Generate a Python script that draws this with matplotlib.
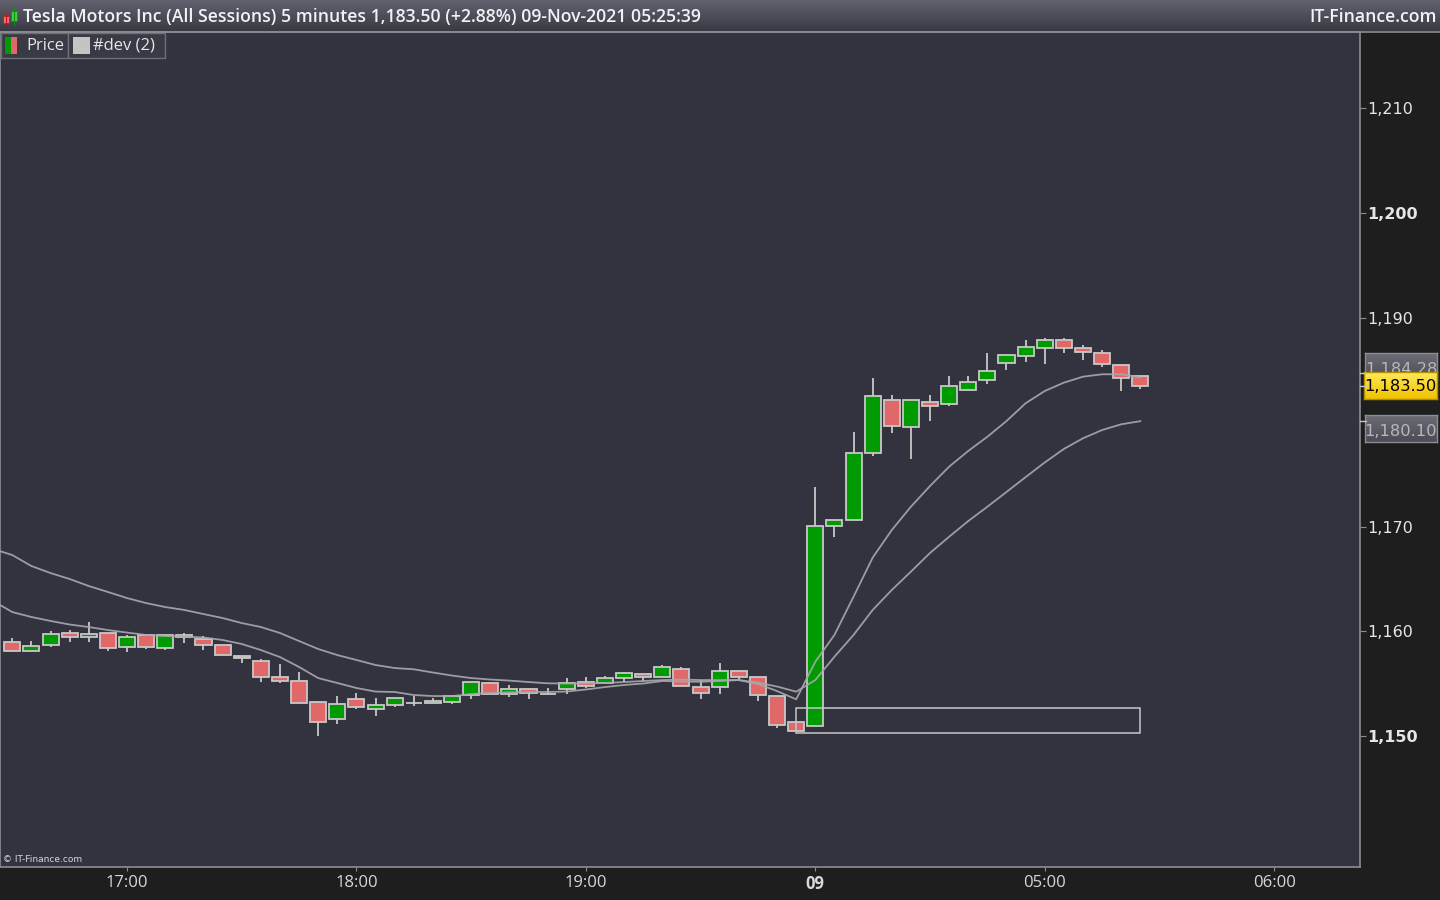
import matplotlib
matplotlib.use('Agg')
import matplotlib.pyplot as plt
import numpy as np
from matplotlib.patches import Rectangle

# ---------------- data ----------------
opens = [1159.02, 1158.10, 1158.67, 1159.82, 1159.44, 1159.88, 1158.48, 1159.63, 1158.38, 1159.66,
         1159.25, 1158.67, 1157.62, 1157.14, 1155.61, 1155.23, 1153.22, 1151.60, 1153.51, 1152.55,
         1152.93, 1153.13, 1153.13, 1153.22, 1153.89, 1155.04, 1153.98, 1154.52, 1154.05, 1154.46,
         1155.13, 1155.04, 1155.51, 1155.90, 1155.61, 1156.38, 1154.66, 1154.66, 1156.19, 1155.61,
         1153.79, 1151.31, 1150.93, 1170.05, 1170.62, 1177.03, 1182.09, 1179.51, 1181.90, 1181.71,
         1183.05, 1184.01, 1185.63, 1186.30, 1187.07, 1187.83, 1187.07, 1186.59, 1185.44, 1184.39]
closes = [1158.10, 1158.63, 1159.78, 1159.44, 1159.72, 1158.38, 1159.44, 1158.48, 1159.63, 1159.44,
          1158.67, 1157.71, 1157.43, 1155.61, 1155.23, 1153.13, 1151.31, 1153.03, 1152.74, 1152.93,
          1153.60, 1153.13, 1153.32, 1153.79, 1155.13, 1154.05, 1154.52, 1154.11, 1154.05, 1155.10,
          1154.75, 1155.51, 1155.99, 1155.61, 1156.57, 1154.75, 1154.08, 1156.19, 1155.61, 1153.89,
          1151.02, 1150.45, 1170.05, 1170.62, 1177.03, 1182.48, 1179.61, 1182.09, 1181.52, 1183.43,
          1183.81, 1184.87, 1186.40, 1187.16, 1187.83, 1187.07, 1186.68, 1185.54, 1184.20, 1183.50]
highs = [1159.34, 1159.05, 1160.01, 1160.10, 1160.87, 1159.88, 1159.66, 1159.63, 1159.63, 1159.85,
         1159.56, 1158.67, 1157.62, 1157.36, 1156.88, 1156.12, 1153.35, 1153.82, 1154.11, 1153.63,
         1153.60, 1153.85, 1153.63, 1153.79, 1155.13, 1155.16, 1154.84, 1154.52, 1154.59, 1155.55,
         1155.64, 1155.74, 1156.12, 1155.90, 1156.79, 1156.60, 1155.32, 1156.98, 1156.19, 1155.61,
         1153.79, 1151.31, 1173.81, 1170.62, 1179.06, 1184.23, 1182.60, 1182.09, 1182.60, 1184.42,
         1184.42, 1186.62, 1186.40, 1187.86, 1188.05, 1188.05, 1187.38, 1186.87, 1185.44, 1184.39]
lows = [1158.10, 1158.10, 1158.54, 1159.02, 1159.02, 1158.16, 1158.06, 1158.35, 1158.25, 1158.92,
        1158.25, 1157.71, 1157.01, 1155.19, 1155.10, 1153.13, 1150.03, 1151.18, 1152.55, 1151.94,
        1152.74, 1152.90, 1153.13, 1153.09, 1153.54, 1154.05, 1153.76, 1153.54, 1154.05, 1154.05,
        1154.62, 1155.04, 1155.19, 1155.23, 1155.61, 1154.75, 1153.54, 1154.05, 1155.32, 1153.38,
        1150.79, 1150.45, 1150.93, 1169.07, 1170.62, 1176.80, 1179.00, 1176.51, 1180.14, 1181.52,
        1183.05, 1183.68, 1185.02, 1185.79, 1185.60, 1186.59, 1185.98, 1185.31, 1183.01, 1183.20]

# #dev (2) lines (first value belongs to the bar just before the visible range)
dev_slow = [1167.88,
            1167.30, 1166.25, 1165.58, 1165.01, 1164.34, 1163.77, 1163.19, 1162.71, 1162.33, 1162.05,
            1161.66, 1161.28, 1160.80, 1160.42, 1159.85, 1159.08, 1158.32, 1157.74, 1157.27, 1156.79,
            1156.50, 1156.38, 1156.07, 1155.78, 1155.54, 1155.40, 1155.30, 1155.16, 1155.04, 1155.02,
            1155.04, 1155.07, 1155.16, 1155.26, 1155.35, 1155.40, 1155.35, 1155.35, 1155.35, 1155.10,
            1154.73, 1154.24, 1155.35, 1157.58, 1159.66, 1162.05, 1163.96, 1165.71, 1167.50, 1169.05,
            1170.55, 1171.92, 1173.33, 1174.75, 1176.15, 1177.44, 1178.46, 1179.25, 1179.80, 1180.10]
dev_fast = [1162.91,
            1161.85, 1161.38, 1161.00, 1160.66, 1160.42, 1160.13, 1159.89, 1159.66, 1159.56, 1159.51,
            1159.42, 1159.18, 1158.80, 1158.22, 1157.55, 1156.60, 1155.54, 1155.07, 1154.59, 1154.25,
            1154.21, 1153.92, 1153.82, 1153.82, 1154.01, 1154.11, 1154.18, 1154.21, 1154.21, 1154.25,
            1154.45, 1154.68, 1154.88, 1155.02, 1155.26, 1155.21, 1155.19, 1155.26, 1155.35, 1154.97,
            1154.30, 1153.51, 1157.10, 1159.66, 1163.32, 1167.05, 1169.69, 1171.92, 1173.90, 1175.75,
            1177.25, 1178.61, 1180.11, 1181.81, 1182.98, 1183.78, 1184.35, 1184.58, 1184.58, 1184.28]

x_tick_bars = [6, 18, 30, 42, 54, 66]
x_tick_labels = ['17:00', '18:00', '19:00', '09', '05:00', '06:00']
y_ticks = [1150, 1160, 1170, 1190, 1200, 1210]
y_tick_labels = ['1,150', '1,160', '1,170', '1,190', '1,200', '1,210']
y_bold = [1150, 1200]

zone_bars = [41, 59]
zone_prices = [1150.26, 1152.65]

title = 'Tesla Motors Inc (All Sessions) 5 minutes 1,183.50 (+2.88%) 09-Nov-2021 05:25:39'
last_price = 1183.50
tag_fast = 1184.28
tag_slow = 1180.10

# ---------------- style ----------------
BG = '#33333f'
AXBG = '#1e1e1e'
GREEN = '#009b00'
RED = '#e06868'
EDGE = '#c8c8c8'
LINE = '#a8a8ae'
FONT = 'DejaVu Sans'
UIFONT = 'Open Sans'

W, H = 1440, 900
fig = plt.figure(figsize=(W / 100, H / 100), dpi=100)
fig.patch.set_facecolor(AXBG)

def fx(x):
    return x / W

def fy(y):
    return 1 - y / H

ax = fig.add_axes([0, fy(867), fx(1360), (867 - 32) / H])
ax.set_facecolor(BG)

n = len(opens)
xs = np.arange(n)
o = np.array(opens); c = np.array(closes); h = np.array(highs); l = np.array(lows)

# wicks
ax.vlines(xs, l, h, color=EDGE, lw=1.3, zorder=2)
# bodies
bw = 0.84
bottoms = np.minimum(o, c)
heights = np.maximum(np.abs(c - o), 0.001)
cols = np.where(c > o, GREEN, np.where(c < o, RED, EDGE))
ax.bar(xs, heights, bottom=bottoms, width=bw, color=cols, edgecolor=EDGE, linewidth=1.3, zorder=3)

# dev lines
xl = np.arange(-1, n)
ax.plot(xl, dev_slow, color=LINE, lw=1.3, alpha=0.9, zorder=4, solid_joinstyle='round')
ax.plot(xl, dev_fast, color=LINE, lw=1.3, alpha=0.9, zorder=4, solid_joinstyle='round')

# zone rectangle
ax.add_patch(Rectangle((zone_bars[0], zone_prices[0]), zone_bars[1] - zone_bars[0],
                       zone_prices[1] - zone_prices[0], fill=False, edgecolor=EDGE, lw=1.1, zorder=5))

ax.set_xlim(-0.643, 70.49)
ax.set_ylim(1137.48, 1217.30)

for s in ax.spines.values():
    s.set_color('#8c8c92')
    s.set_linewidth(1.2)

ax.set_xticks(x_tick_bars)
ax.set_xticklabels(x_tick_labels)
for lab in ax.get_xticklabels():
    lab.set_color('#d8d8d8')
    lab.set_fontfamily(UIFONT)
    lab.set_fontsize(12)
    if lab.get_text() == '09':
        lab.set_fontweight('bold')
ax.tick_params(axis='x', direction='out', length=3, color='#8c8c92', pad=3)

ax.yaxis.tick_right()
ax.set_yticks(y_ticks)
ax.set_yticklabels(y_tick_labels)
for t, lab in zip(y_ticks, ax.get_yticklabels()):
    lab.set_color('#e6e6e6')
    lab.set_fontfamily(FONT)
    lab.set_fontsize(11.5)
    if t in y_bold:
        lab.set_fontweight('bold')
ax.tick_params(axis='y', direction='out', length=4, color='#8c8c92', pad=1)

# watermark
ax.text(0.002, 0.004, '\u00a9 IT-Finance.com', transform=ax.transAxes, fontsize=6.5,
        color='#d8d8d8', family=FONT, ha='left', va='bottom')

# ---------------- header ----------------
hax = fig.add_axes([0, fy(31), 1, 31 / H])
grad = np.linspace(0, 1, 64).reshape(-1, 1)
top = np.array([0x62, 0x62, 0x6e]) / 255
bot = np.array([0x3a, 0x3a, 0x44]) / 255
img = top[None, None, :] * (1 - grad[:, :, None]) + bot[None, None, :] * grad[:, :, None]
hax.imshow(img, aspect='auto', extent=[0, 1, 0, 1], origin='upper')
hax.set_xlim(0, 1); hax.set_ylim(0, 1)
hax.axis('off')
fig.add_artist(plt.Line2D([0, 1], [fy(31.5), fy(31.5)], color='#8c8c92', lw=1.2, transform=fig.transFigure))

def rect(x0, y0, x1, y1, **kw):
    r = Rectangle((fx(x0), fy(y1)), fx(x1) - fx(x0), fy(y0) - fy(y1), transform=fig.transFigure, **kw)
    fig.add_artist(r)
    return r

# header icon
fig.add_artist(plt.Line2D([fx(6), fx(6)], [fy(13), fy(25)], color='#c01818', lw=0.8, transform=fig.transFigure))
rect(3, 16, 9, 23, facecolor='#f07070', edgecolor='#c02020', lw=0.6)
fig.add_artist(plt.Line2D([fx(14), fx(14)], [fy(7), fy(25)], color='#109010', lw=0.8, transform=fig.transFigure))
rect(11, 11, 17, 21, facecolor='#40d040', edgecolor='#109010', lw=0.6)

fig.text(fx(23), fy(17), title, color='#f0f2f6', fontsize=12.7, family=UIFONT, fontweight='semibold',
         ha='left', va='center')
fig.text(fx(1437), fy(17), 'IT-Finance.com', color='#f0f2f6', fontsize=12.7, family=UIFONT,
         fontweight='semibold', ha='right', va='center')

# ---------------- legend ----------------
rect(1, 33, 68, 58, facecolor='#3a3a46', edgecolor='#6e6e76', lw=1)
rect(5, 37, 11, 54, facecolor=GREEN, edgecolor='none')
rect(11, 37, 17, 54, facecolor=RED, edgecolor='none')
fig.text(fx(26), fy(45.5), 'Price', color='#e6e6e6', fontsize=12, family=UIFONT, ha='left', va='center')
rect(68, 33, 165, 58, facecolor='#3a3a46', edgecolor='#6e6e76', lw=1)
rect(73, 37, 90, 54, facecolor='#c4c4c4', edgecolor='none')
fig.text(fx(93), fy(45.5), '#dev (2)', color='#e6e6e6', fontsize=12, family=UIFONT, ha='left', va='center')

# ---------------- price tags ----------------
def price_px(p):
    # figure pixel y measured from the top
    return H - ax.transData.transform((0, p))[1]

def gradient_box(x0, y0, x1, y1, ctop, cbot, edge):
    a = fig.add_axes([fx(x0), fy(y1), fx(x1) - fx(x0), (y1 - y0) / H])
    g = np.linspace(0, 1, 32).reshape(-1, 1)
    ct = np.array(ctop); cb = np.array(cbot)
    im = ct[None, None, :] * (1 - g[:, :, None]) + cb[None, None, :] * g[:, :, None]
    a.imshow(im, aspect='auto', extent=[0, 1, 0, 1], origin='upper')
    a.set_xlim(0, 1); a.set_ylim(0, 1)
    a.set_xticks([]); a.set_yticks([])
    for s in a.spines.values():
        s.set_color(edge); s.set_linewidth(1)
    return a

def hexc(s):
    return [int(s[i:i + 2], 16) / 255 for i in (1, 3, 5)]

yf = price_px(tag_fast)
ys = price_px(tag_slow)
yl = price_px(last_price)

# pointer ticks
for yy in (yf - 4, yl, ys):
    fig.add_artist(plt.Line2D([fx(1360), fx(1366)], [fy(yy), fy(yy)], color='#c8c8c8', lw=1,
                              transform=fig.transFigure))

a1 = gradient_box(1365, yf - 24, 1437, yf + 3, hexc('#6c6c76'), hexc('#4c4c56'), '#8c8c92')
a1.text(0.5, 0.42, '1,184.28', transform=a1.transAxes, ha='center', va='center', color='#b8b8b8',
        fontsize=11.7, family=FONT)
a2 = gradient_box(1364, yl - 14, 1437, yl + 13, hexc('#ffe85a'), hexc('#f2c200'), '#b09000')
a2.text(0.5, 0.45, '1,183.50', transform=a2.transAxes, ha='center', va='center', color='#000000',
        fontsize=11.7, family=FONT)
a3 = gradient_box(1365, ys - 6, 1437, ys + 21, hexc('#6c6c76'), hexc('#4c4c56'), '#8c8c92')
a3.text(0.5, 0.38, '1,180.10', transform=a3.transAxes, ha='center', va='center', color='#b8b8b8',
        fontsize=11.7, family=FONT)

fig.savefig('out.png', dpi=100, facecolor=fig.get_facecolor())
